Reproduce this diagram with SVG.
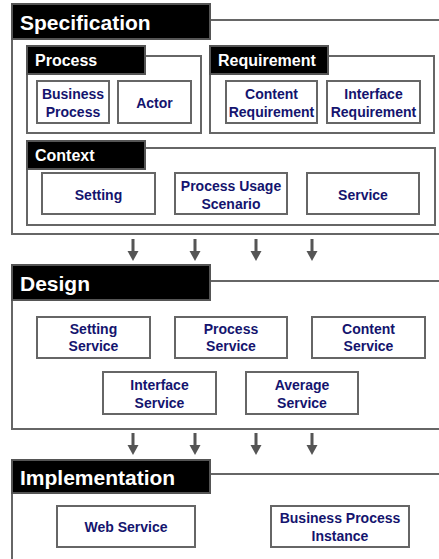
<svg xmlns="http://www.w3.org/2000/svg" width="439" height="559" viewBox="0 0 439 559">
<defs>
<style>
.frame{fill:none;stroke:#666;stroke-width:2}
.hdr{fill:#000;stroke:#555;stroke-width:2}
.htxt{fill:#fff;font-family:"Liberation Sans",Arial,sans-serif;font-weight:bold;font-size:21px}
.stxt{fill:#fff;font-family:"Liberation Sans",Arial,sans-serif;font-weight:bold;font-size:16px}
.box{fill:#fff;stroke:#666;stroke-width:2}
.btxt{fill:#14146e;font-family:"Liberation Sans",Arial,sans-serif;font-weight:bold;font-size:14px;text-anchor:middle}
.arr{fill:#555}
</style>
<g id="arrowShape"><rect x="-1.5" y="0" width="3" height="13" class="arr"/><polygon points="-5.5,12 5.5,12 0,22" class="arr"/></g>
</defs>
<rect width="439" height="559" fill="#fff"/>

<g id="specification">
<path class="frame" d="M210,20 H442 M442,234 H12 V39"/>
<rect class="hdr" x="12" y="4" width="198" height="35"/>
<text class="htxt" x="20" y="30">Specification</text>
</g>

<g id="process">
<path class="frame" d="M145,56 H201 V133 H27 V74"/>
<rect class="hdr" x="27" y="46" width="118" height="28"/>
<text class="stxt" x="35" y="66">Process</text>
</g>
<g id="business-process"><rect class="box" x="37" y="81" width="72" height="42"/><text class="btxt" x="73" y="99">Business</text><text class="btxt" x="73" y="117">Process</text></g>
<g id="actor"><rect class="box" x="118" y="81" width="73" height="42"/><text class="btxt" x="154.5" y="108">Actor</text></g>

<g id="requirement">
<path class="frame" d="M328,56 H434 V133 H210 V74"/>
<rect class="hdr" x="210" y="46" width="118" height="28"/>
<text class="stxt" x="218" y="66">Requirement</text>
</g>
<g id="content-requirement"><rect class="box" x="226" y="81" width="91" height="42"/><text class="btxt" x="271.5" y="99">Content</text><text class="btxt" x="271.5" y="117">Requirement</text></g>
<g id="interface-requirement"><rect class="box" x="327" y="81" width="93" height="42"/><text class="btxt" x="373.5" y="99">Interface</text><text class="btxt" x="373.5" y="117">Requirement</text></g>

<g id="context">
<path class="frame" d="M145,148 H435 V225 H27 V169"/>
<rect class="hdr" x="27" y="141" width="118" height="28"/>
<text class="stxt" x="35" y="161">Context</text>
</g>
<g id="setting"><rect class="box" x="42" y="173" width="113" height="41"/><text class="btxt" x="98.5" y="200">Setting</text></g>
<g id="process-usage-scenario"><rect class="box" x="175" y="173" width="112" height="41"/><text class="btxt" x="231" y="191">Process Usage</text><text class="btxt" x="231" y="209">Scenario</text></g>
<g id="service"><rect class="box" x="307" y="173" width="112" height="41"/><text class="btxt" x="363" y="200">Service</text></g>

<g id="design">
<path class="frame" d="M210,281 H442 M442,429 H12 V300"/>
<rect class="hdr" x="12" y="265" width="198" height="35"/>
<text class="htxt" x="20" y="291">Design</text>
</g>
<g id="setting-service"><rect class="box" x="37" y="317" width="113" height="41"/><text class="btxt" x="93.5" y="334">Setting</text><text class="btxt" x="93.5" y="351">Service</text></g>
<g id="process-service"><rect class="box" x="175" y="317" width="112" height="41"/><text class="btxt" x="231" y="334">Process</text><text class="btxt" x="231" y="351">Service</text></g>
<g id="content-service"><rect class="box" x="312" y="317" width="113" height="41"/><text class="btxt" x="368.5" y="334">Content</text><text class="btxt" x="368.5" y="351">Service</text></g>
<g id="interface-service"><rect class="box" x="103" y="372" width="113" height="42"/><text class="btxt" x="159.5" y="390">Interface</text><text class="btxt" x="159.5" y="408">Service</text></g>
<g id="average-service"><rect class="box" x="246" y="372" width="112" height="42"/><text class="btxt" x="302" y="390">Average</text><text class="btxt" x="302" y="408">Service</text></g>

<g id="implementation">
<path class="frame" d="M210,474 H442 M12,493 V562"/>
<rect class="hdr" x="12" y="460" width="198" height="33"/>
<text class="htxt" x="20" y="485">Implementation</text>
</g>
<g id="web-service"><rect class="box" x="57" y="506" width="138" height="41"/><text class="btxt" x="126" y="532">Web Service</text></g>
<g id="business-process-instance"><rect class="box" x="271" y="506" width="138" height="41"/><text class="btxt" x="340" y="523">Business Process</text><text class="btxt" x="340" y="541">Instance</text></g>

<g id="connectors">
<use href="#arrowShape" x="133" y="239"/>
<use href="#arrowShape" x="195" y="239"/>
<use href="#arrowShape" x="256" y="239"/>
<use href="#arrowShape" x="312" y="239"/>
<use href="#arrowShape" x="133" y="433"/>
<use href="#arrowShape" x="195" y="433"/>
<use href="#arrowShape" x="256" y="433"/>
<use href="#arrowShape" x="312" y="433"/>
</g>
</svg>
